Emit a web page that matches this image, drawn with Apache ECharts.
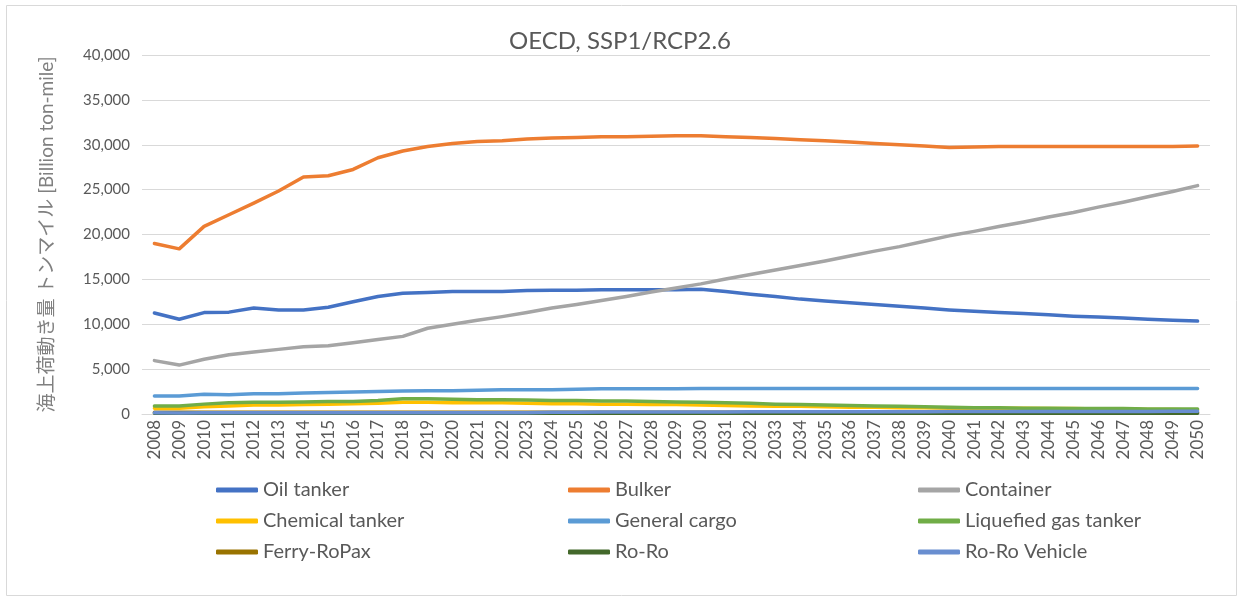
<!DOCTYPE html>
<html>
<head>
<meta charset="utf-8">
<script src="https://cdn.jsdelivr.net/npm/echarts@6/dist/echarts.min.js"></script>
<style>
html,body{margin:0;padding:0;background:#fff;}
#chart{width:1240px;height:599px;}
</style>
</head>
<body>
<div id="chart"></div>
<script>
const years = [];
for (let y = 2008; y <= 2050; y++) years.push(String(y));

const oilTanker = [11250,10550,11300,11350,11800,11600,11600,11900,12500,13100,
  13450,13550,13650,13650,13650,13750,13800,13800,13850,13850,
  13850,13850,13900,13650,13350,13100,12800,12600,12400,12200,
  12000,11800,11600,11450,11300,11200,11050,10900,10800,10700,
  10550,10450,10350];
const bulker = [19000,18400,20900,22200,23500,24850,26400,26550,27250,28550,
  29300,29800,30150,30350,30450,30650,30750,30800,30900,30900,
  30950,31000,31000,30900,30800,30700,30550,30450,30300,30150,
  30000,29850,29700,29750,29800,29800,29800,29800,29800,29800,
  29800,29800,29850];
const container = [5950,5450,6100,6600,6900,7200,7500,7600,7950,8300,
  8650,9550,10000,10450,10850,11300,11800,12200,12650,13100,
  13600,14050,14500,15050,15550,16050,16550,17050,17600,18150,
  18650,19250,19850,20350,20900,21400,21950,22450,23050,23600,
  24200,24800,25450];
const chemicalTanker = [650,650,800,900,1000,1000,1050,1100,1150,1200,
  1300,1300,1250,1250,1250,1200,1150,1150,1100,1100,
  1050,1050,1000,950,900,850,850,800,750,750,
  700,700,650,650,650,650,600,600,550,550,
  500,500,450];
const generalCargo = [2000,2000,2200,2150,2250,2250,2350,2400,2450,2500,
  2550,2600,2600,2650,2700,2700,2700,2750,2800,2800,
  2800,2800,2850,2850,2850,2850,2850,2850,2850,2850,
  2850,2850,2850,2850,2850,2850,2850,2850,2850,2850,
  2850,2850,2850];
const liquefiedGas = [900,900,1100,1250,1300,1300,1350,1400,1400,1500,
  1700,1700,1650,1600,1600,1550,1500,1500,1450,1450,
  1400,1350,1300,1250,1200,1100,1050,1000,950,900,
  850,800,750,700,700,650,650,600,600,600,
  550,550,550];
const ferryRoPax = [200,190,200,200,200,200,200,200,200,200,
  200,200,190,190,190,190,190,190,190,190,
  190,190,190,190,190,190,190,190,190,190,
  180,180,180,180,180,180,180,180,180,180,
  180,180,180];
const roRo = [90,80,90,90,90,90,90,90,90,90,
  90,90,90,90,90,90,90,90,90,90,
  90,90,90,90,90,90,90,90,90,90,
  90,90,90,90,90,90,90,90,90,90,
  90,90,90];
const roRoVehicle = [130,120,130,130,130,130,130,130,130,130,
  130,130,130,130,140,150,190,200,210,210,
  220,220,230,230,240,240,240,250,250,250,
  260,260,270,270,270,280,280,280,290,290,
  290,300,300];

const seriesNames = ['Oil tanker','Bulker','Container','Chemical tanker','General cargo','Liquefied gas tanker','Ferry-RoPax','Ro-Ro','Ro-Ro Vehicle'];
const seriesData = [oilTanker,bulker,container,chemicalTanker,generalCargo,liquefiedGas,ferryRoPax,roRo,roRoVehicle];
const colors = ['#4472C4','#ED7D31','#A5A5A5','#FFC000','#5B9BD5','#70AD47','#997300','#43682B','#698ED0'];

const font = 'Lato, "Noto Sans CJK JP", sans-serif';
const chart = echarts.init(document.getElementById('chart'));

const legendBase = {
  orient: 'vertical',
  top: 478,
  padding: 0,
  itemWidth: 42,
  itemHeight: 5,
  itemGap: 7,
  icon: 'roundRect',
  textStyle: {fontFamily: font, fontSize: 20, color: '#595959', lineHeight: 24}
};

chart.setOption({
  animation: false,
  color: colors,
  title: {
    text: 'OECD, SSP1/RCP2.6',
    left: 'center',
    top: 24,
    textStyle: {fontFamily: font, fontSize: 24, fontWeight: 'normal', color: '#595959'}
  },
  graphic: [{
    type: 'rect',
    shape: {x: 6.5, y: 5.5, width: 1230, height: 590},
    style: {fill: 'none', stroke: '#d9d9d9', lineWidth: 1}
  }],
  legend: [
    Object.assign({left: 216, data: ['Oil tanker','Chemical tanker','Ferry-RoPax']}, legendBase),
    Object.assign({left: 568, data: ['Bulker','General cargo','Ro-Ro']}, legendBase),
    Object.assign({left: 918, data: ['Container','Liquefied gas tanker','Ro-Ro Vehicle']}, legendBase)
  ],
  grid: {left: 142, right: 30, top: 55, bottom: 185, containLabel: false},
  xAxis: {
    type: 'category',
    data: years,
    boundaryGap: true,
    axisLine: {lineStyle: {color: '#d9d9d9', width: 1}},
    axisTick: {show: false},
    axisLabel: {rotate: 90, interval: 0, fontFamily: font, fontSize: 17, color: '#595959', margin: 6}
  },
  yAxis: {
    type: 'value',
    min: 0,
    max: 40000,
    interval: 5000,
    name: '海上荷動き量 トンマイル [Billion ton-mile]',
    nameLocation: 'middle',
    nameRotate: 90,
    nameGap: 86,
    nameTextStyle: {fontFamily: font, fontSize: 19, color: '#808080'},
    axisLine: {show: false},
    axisTick: {show: false},
    splitLine: {lineStyle: {color: '#d9d9d9', width: 1}},
    axisLabel: {
      fontFamily: font, fontSize: 15, color: '#595959', margin: 12,
      formatter: v => v.toLocaleString('en-US')
    }
  },
  series: seriesNames.map((n, i) => ({
    name: n,
    type: 'line',
    data: seriesData[i],
    symbol: 'none',
    lineStyle: {width: 3.5, color: colors[i], cap: 'round', join: 'round'},
    itemStyle: {color: colors[i]}
  }))
});
</script>
</body>
</html>
